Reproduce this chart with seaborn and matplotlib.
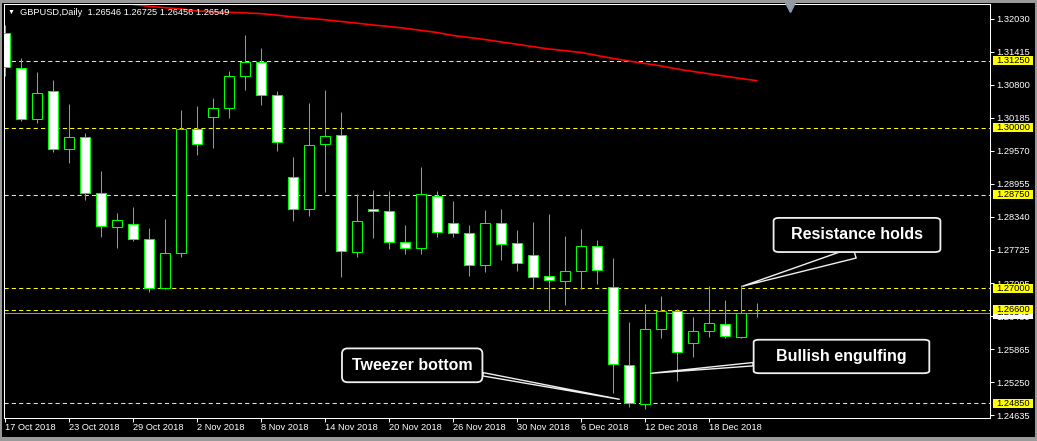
import numpy as np
import pandas as pd
import matplotlib
matplotlib.use("Agg")
import matplotlib.pyplot as plt
import matplotlib.transforms as mtransforms
from matplotlib.patches import Rectangle
import seaborn as sns

# GBPUSD daily, 17 Oct 2018 -> 21 Dec 2018
HEADER = "GBPUSD,Daily  1.26546 1.26725 1.26456 1.26549"

opens = [1.31760, 1.31110, 1.30157, 1.30680, 1.29597, 1.29821, 1.28775, 1.28140, 1.28196, 1.27916,
         1.27001, 1.27655, 1.29970, 1.30194, 1.30363, 1.30960, 1.31222, 1.30605, 1.29074, 1.28477,
         1.29690, 1.29858, 1.27674, 1.28477, 1.28439, 1.27860, 1.27748, 1.28731, 1.28215, 1.28028,
         1.27431, 1.28215, 1.27842, 1.27618, 1.27225, 1.27132, 1.27319, 1.27791, 1.27020, 1.25563,
         1.24835, 1.26236, 1.26572, 1.25974, 1.26198, 1.26329, 1.26086, 1.26546]
highs = [1.31920, 1.31296, 1.31035, 1.30886, 1.30437, 1.29896, 1.29192, 1.28407, 1.28514, 1.28122,
         1.28295, 1.30331, 1.30406, 1.30549, 1.31059, 1.31731, 1.31489, 1.30686, 1.29453, 1.30462,
         1.30704, 1.30288, 1.28757, 1.28837, 1.28818, 1.28183, 1.29261, 1.28818, 1.28632, 1.28183,
         1.28464, 1.28482, 1.28090, 1.28239, 1.28389, 1.27978, 1.28109, 1.27903, 1.27562, 1.26372,
         1.26708, 1.26858, 1.26609, 1.26465, 1.27044, 1.26783, 1.27063, 1.26725]
lows = [1.30971, 1.30131, 1.30094, 1.29552, 1.29347, 1.28650, 1.27965, 1.27759, 1.27890, 1.26938,
        1.26983, 1.27591, 1.29490, 1.29627, 1.30187, 1.30704, 1.30430, 1.29571, 1.28264, 1.28357,
        1.28805, 1.27218, 1.27580, 1.27935, 1.27741, 1.27636, 1.27647, 1.27965, 1.27954, 1.27237,
        1.27311, 1.27535, 1.27330, 1.26988, 1.26577, 1.26689, 1.26983, 1.27082, 1.25052, 1.24790,
        1.24753, 1.26079, 1.25276, 1.25713, 1.26086, 1.26068, 1.26068, 1.26456]
closes = [1.31128, 1.30157, 1.30643, 1.29597, 1.29821, 1.28787, 1.28159, 1.28271, 1.27916, 1.27001,
          1.27655, 1.29970, 1.29690, 1.30363, 1.30960, 1.31222, 1.30605, 1.29728, 1.28477, 1.29672,
          1.29840, 1.27692, 1.28252, 1.28439, 1.27860, 1.27748, 1.28757, 1.28047, 1.28028, 1.27431,
          1.28215, 1.27823, 1.27479, 1.27218, 1.27151, 1.27319, 1.27791, 1.27337, 1.25582, 1.24854,
          1.26236, 1.26572, 1.25806, 1.26198, 1.26348, 1.26105, 1.26534, 1.26549]

# red moving average, only visible from bar 8 on
ma_start = 8
ma_values = [1.32301, 1.32267, 1.32241, 1.32217, 1.32180, 1.32166, 1.32155, 1.32144, 1.32131, 1.32101,
             1.32068, 1.32043, 1.32015, 1.31984, 1.31952, 1.31918, 1.31890, 1.31857, 1.31817, 1.31778,
             1.31722, 1.31685, 1.31647, 1.31601, 1.31558, 1.31513, 1.31470, 1.31438, 1.31405, 1.31349,
             1.31293, 1.31246, 1.31199, 1.31153, 1.31097, 1.31050, 1.31007, 1.30962, 1.30917, 1.30878]

date_ticks = [0, 4, 8, 12, 16, 20, 24, 28, 32, 36, 40, 44]
date_labels = ["17 Oct 2018", "23 Oct 2018", "29 Oct 2018", "2 Nov 2018", "8 Nov 2018",
               "14 Nov 2018", "20 Nov 2018", "26 Nov 2018", "30 Nov 2018", "6 Dec 2018",
               "12 Dec 2018", "18 Dec 2018"]

price_ticks = [1.32030, 1.31415, 1.30800, 1.30185, 1.29570, 1.28955, 1.28340,
               1.27725, 1.27095, 1.26480, 1.25865, 1.25250, 1.24635]
levels = [1.31250, 1.30000, 1.28750, 1.27000, 1.26600, 1.24850]
bid = 1.26549

note_texts = ["Resistance holds", "Bullish engulfing", "Tweezer bottom"]
note_bar = [46.1, 40.36, 38.39]
note_price = [1.27040, 1.25414, 1.24929]
note_text_bar = [53.25, 52.28, 25.45]
note_text_price = [1.27997, 1.25728, 1.25563]

# box / pointer styling per note
NOTE_STYLE = [
    dict(pad=1.09, aspect=0.55, relpos=(0.74, 0.0), tail=0.7),
    dict(pad=1.41, aspect=0.41, relpos=(0.0, 0.12), tail=0.21),
    dict(pad=0.62, aspect=0.95, relpos=(1.0, 0.03), tail=0.21),
]

GREEN = "#00ff00"
YELLOW = "#ffff00"
W, H = 1037, 441

sns.set_style("dark", {"axes.facecolor": "black", "figure.facecolor": "black",
                       "axes.edgecolor": "white", "text.color": "white",
                       "xtick.color": "white", "ytick.color": "white"})
plt.rcParams["font.family"] = ["Liberation Sans", "DejaVu Sans"]

fig = plt.figure(figsize=(W / 100, H / 100), dpi=100)
fig.patch.set_facecolor("#9a9a9a")
fig.add_artist(Rectangle((2 / W, 4 / H), 1033 / W, 434 / H, transform=fig.transFigure,
                         facecolor="black", edgecolor="none", zorder=-1))
ax = fig.add_axes([4 / W, (H - 418) / H, 985.5 / W, 414 / H])
ax.set_facecolor("black")
for sp in ax.spines.values():
    sp.set_color("white")
    sp.set_linewidth(0.75)

bars = np.arange(len(opens))
o, h, l, c = map(np.array, (opens, highs, lows, closes))
bull = c >= o

# horizontal levels + bid line
for lv in levels:
    ax.axhline(lv, color=YELLOW, lw=0.75, ls=(0, (4, 3)), zorder=1)
ax.axhline(bid, color="#8a96a6", lw=0.75, zorder=1.2)

# candles: black body = bull, white body = bear
ax.vlines(bars, l, h, color=GREEN, lw=0.75, zorder=2)
ax.bar(bars, np.abs(c - o), bottom=np.minimum(o, c), width=0.58,
       color=np.where(bull, "black", "white"), edgecolor=GREEN, linewidth=0.75, zorder=3)

ma_df = pd.DataFrame({"bar": np.arange(ma_start, ma_start + len(ma_values)), "ma": ma_values})
sns.lineplot(data=ma_df, x="bar", y="ma", color="#ff0000", lw=1.2, ax=ax, zorder=2.5)

ax.set_xlim(-1 / 16, (989.5 - 5) / 16)
ax.set_ylim(1.24579, 1.32310)
ax.set_xlabel("")
ax.set_ylabel("")

ax.yaxis.tick_right()
ax.set_yticks(price_ticks, labels=[f"{p:.5f}" for p in price_ticks])
ax.tick_params(axis="y", left=False, right=True, labelleft=False, labelright=True,
               colors="white", length=3, width=0.75, pad=1.5, labelsize=6.7, direction="out")
ax.set_xticks(date_ticks, labels=date_labels, ha="left")
ax.tick_params(axis="x", bottom=True, colors="white", length=3, width=0.75, pad=0.3,
               labelsize=6.7, direction="out")

# price tags on the right axis
trans = mtransforms.blended_transform_factory(ax.transAxes, ax.transData)
ax.text(1.0066, bid, f"{bid:.5f}", transform=trans, color="black", fontsize=6.7,
        ha="left", va="center", clip_on=False, zorder=4,
        bbox=dict(boxstyle="square,pad=0.35", fc="white", ec="none", mutation_aspect=0.5))
for lv in levels:
    ax.text(1.0066, lv, f"{lv:.5f}", transform=trans, color="black", fontsize=6.7,
            ha="left", va="center", clip_on=False, zorder=5,
            bbox=dict(boxstyle="square,pad=0.35", fc=YELLOW, ec="none", mutation_aspect=0.05))

# header + chart shift marker
ax.text(0.0075, 0.9795, "\u25bc", transform=ax.transAxes, color="white", fontsize=5,
        ha="center", va="center")
ax.text(0.0162, 0.9795, HEADER, transform=ax.transAxes, color="white", fontsize=6.7,
        ha="left", va="center")
ax.plot([0.798], [0.993], marker="v", ms=6.5, color="#8e9aa8", transform=ax.transAxes,
        clip_on=False, zorder=6)

# callouts
for txt, xb, yp, tx, ty, st in zip(note_texts, note_bar, note_price,
                                   note_text_bar, note_text_price, NOTE_STYLE):
    ax.annotate(txt, xy=(xb, yp), xytext=(tx, ty), ha="center", va="center",
                color="white", fontsize=11.5, fontweight="bold", zorder=7,
                bbox=dict(boxstyle=f"round,pad={st['pad']},rounding_size=0.35", fc="black",
                          ec="#f0f0f0", lw=1.3, mutation_aspect=st["aspect"]),
                arrowprops=dict(arrowstyle=f"wedge,tail_width={st['tail']},shrink_factor=0.5",
                                fc="black", ec="#f0f0f0", lw=1.0, relpos=st["relpos"],
                                shrinkA=0, shrinkB=0))

fig.savefig("out.png", dpi=100, facecolor=fig.get_facecolor())
